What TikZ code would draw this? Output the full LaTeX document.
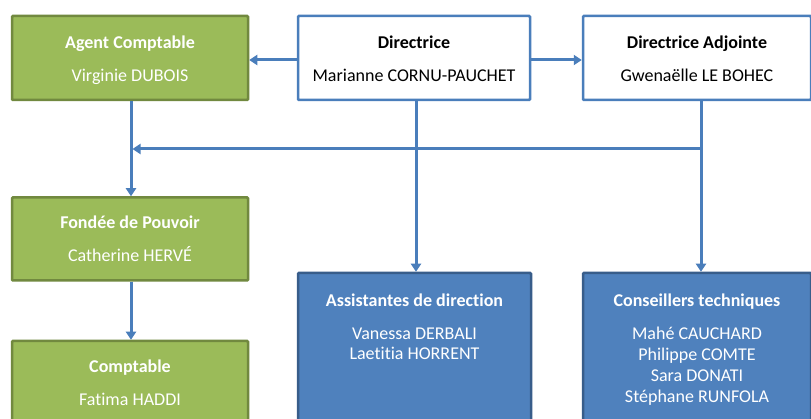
\documentclass[tikz,border=0pt]{standalone}
\usepackage{fontspec}
\setmainfont{Carlito}[Ligatures={NoCommon}]
\usetikzlibrary{arrows.meta}
\definecolor{gfill}{HTML}{9BBB59}
\definecolor{gline}{HTML}{71893F}
\definecolor{bfill}{HTML}{4F81BD}
\definecolor{bline}{HTML}{385D8A}
\definecolor{conn}{HTML}{4A7EBB}
\tikzset{
  greenbox/.style={draw=gline, fill=gfill, line width=2.5pt, rounded corners=1pt, inner sep=0pt},
  whitebox/.style={draw=conn, fill=white, line width=2.5pt, rounded corners=1pt, inner sep=0pt},
  bluebox/.style={draw=bline, fill=bfill, line width=2.5pt, rounded corners=1pt, inner sep=0pt},
  title/.style={font=\fontsize{18}{20}\selectfont\bfseries, inner sep=0pt, text height=12pt, text depth=3pt},
  nm/.style={font=\fontsize{18}{20}\selectfont, inner sep=0pt, text height=12pt, text depth=3pt},
  wt/.style={text=white},
  conline/.style={draw=conn, line width=3pt},
  arr/.style={conline, -{Triangle[length=8pt,width=10pt]}},
}
\begin{document}
\begin{tikzpicture}[x=1pt,y=-1pt]
\useasboundingbox (0,0) rectangle (811,419);
\clip (0,0) rectangle (811,419);
\fill[white] (0,0) rectangle (811,419);
% boxes
\node[greenbox, minimum width=236pt, minimum height=84pt] (agent) at (130,58) {};
\node[whitebox, minimum width=232pt, minimum height=84pt] (dir) at (414,58) {};
\node[whitebox, minimum width=228pt, minimum height=84pt] (adj) at (697,58) {};
\node[greenbox, minimum width=236pt, minimum height=83pt] (fond) at (130,239) {};
\node[greenbox, minimum width=236pt, minimum height=120pt] (compt) at (130,401) {};
\node[bluebox, minimum width=233pt, minimum height=170pt] (assist) at (414.5,358) {};
\node[bluebox, minimum width=228pt, minimum height=170pt] (cons) at (697,358) {};
% texts
\node[title, wt] (t1) at (130,44) {Agent Comptable};
\node[nm, wt] (n1) at (130,77) {Virginie DUBOIS};
\node[title] (t2) at (414,44) {Directrice};
\node[nm] (n2) at (414,77) {Marianne CORNU-PAUCHET};
\node[title] (t3) at (697,44) {Directrice Adjointe};
\node[nm] (n3) at (697,77) {Gwenaëlle LE BOHEC};
\node[title, wt] (t4) at (130,224) {Fondée de Pouvoir};
\node[nm, wt] (n4) at (130,257) {Catherine HERVÉ};
\node[title, wt] (t5) at (130,368) {Comptable};
\node[nm, wt] (n5) at (130,401) {Fatima HADDI};
\node[title, wt] (t6) at (414.5,302) {Assistantes de direction};
\node[nm, wt] (n6a) at (414.5,335) {Vanessa DERBALI};
\node[nm, wt] (n6b) at (414.5,355) {Laetitia HORRENT};
\node[title, wt] (t7) at (697,302) {Conseillers techniques};
\node[nm, wt] (n7a) at (697,335) {Mahé CAUCHARD};
\node[nm, wt] (n7b) at (697,356) {Philippe COMTE};
\node[nm, wt] (n7c) at (697,377) {Sara DONATI};
\node[nm, wt] (n7d) at (697,398) {Stéphane RUNFOLA};
% connectors
\coordinate (hr) at (701,149);
\coordinate (hl) at (131,149);
\coordinate (ay) at (0,60);
\draw[arr] (dir.west |- ay) -- (agent.east |- ay);
\draw[arr] (dir.east |- ay) -- (adj.west |- ay);
\draw[arr] (dir.south -| 416,0) -- (assist.north -| 416,0);
\draw[arr] (adj.south -| hr) -- (cons.north -| hr);
\draw[arr] (hr) -- ([xshift=1.5pt]hl);
\draw[arr] (agent.south -| hl) -- (fond.north -| hl);
\draw[arr] (fond.south -| hl) -- (compt.north -| hl);
\end{tikzpicture}
\end{document}
